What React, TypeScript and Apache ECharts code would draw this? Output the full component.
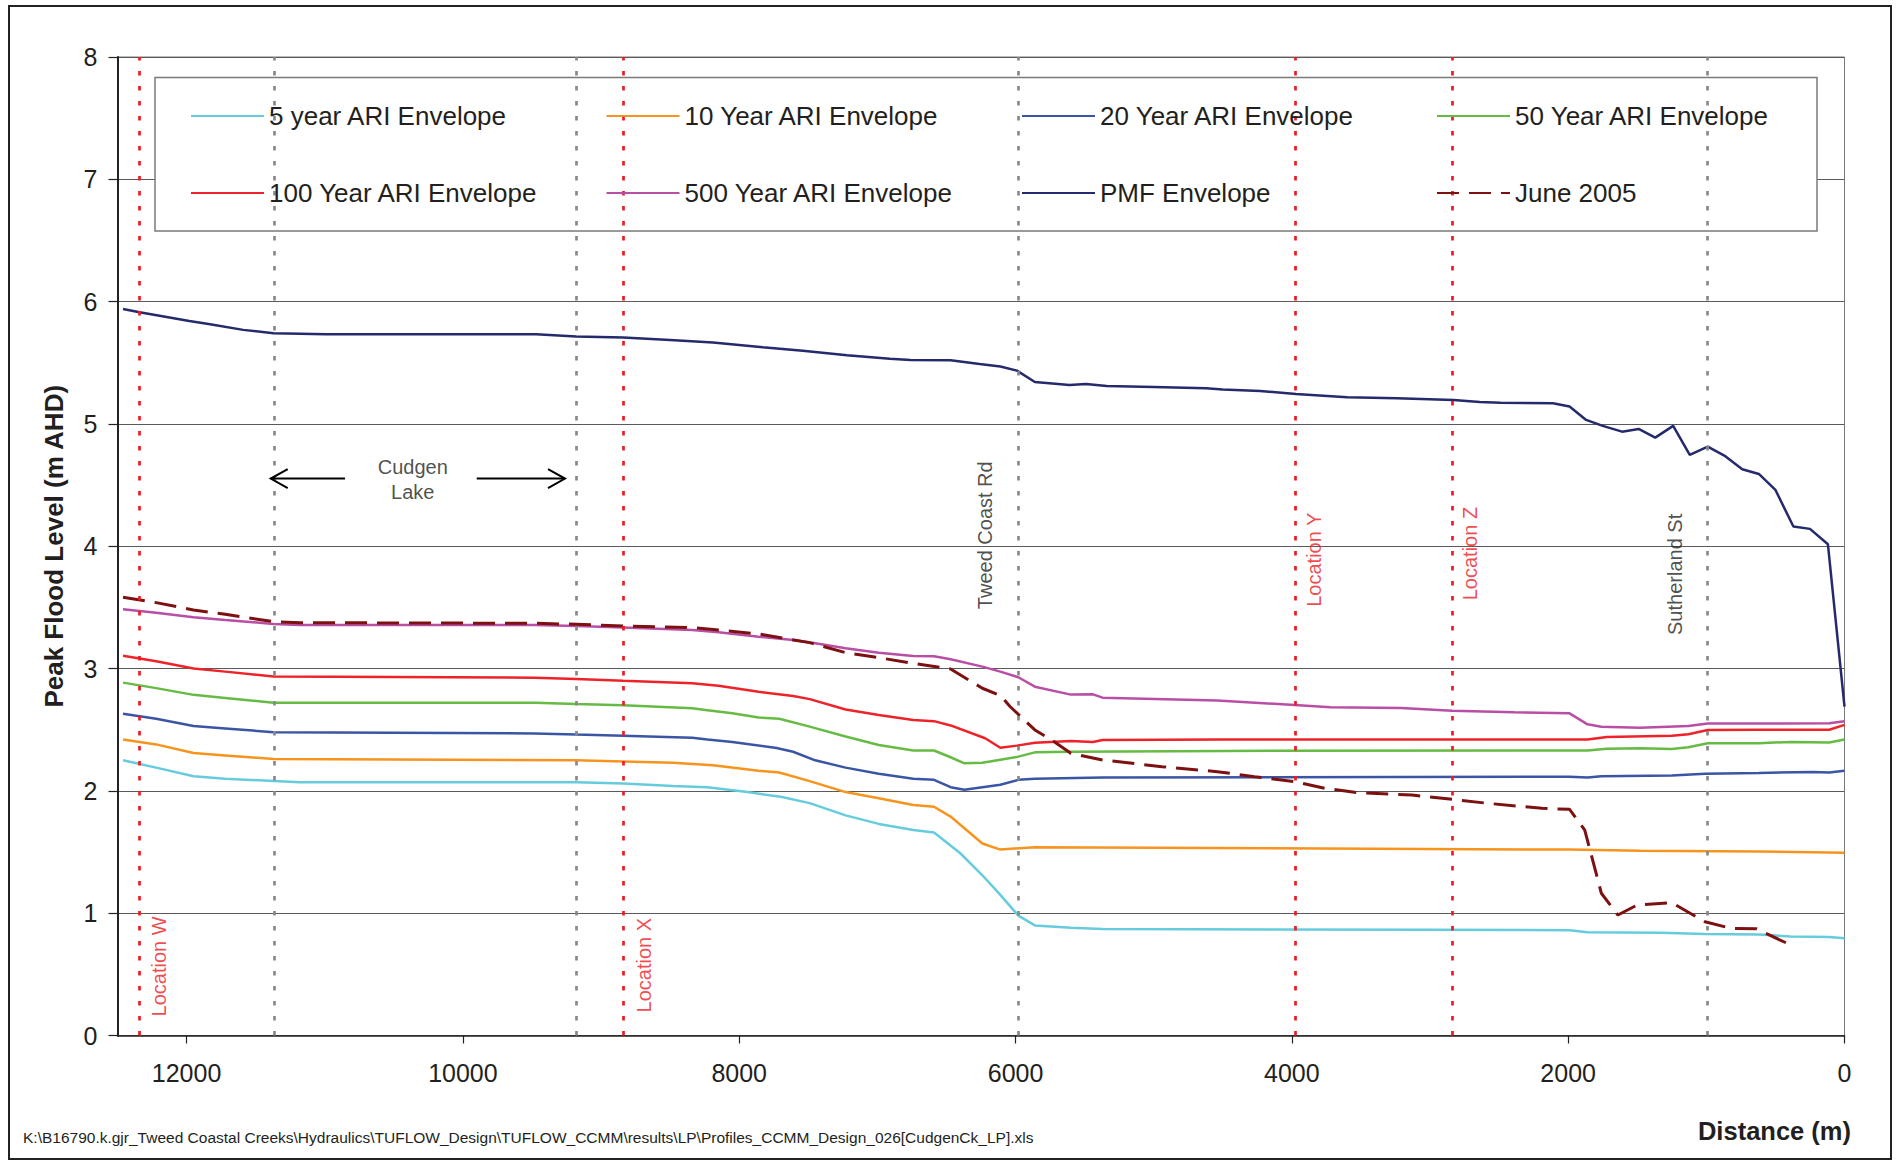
import React, { useEffect, useRef } from "react";
import * as echarts from "echarts";

const W = 1899;
const H = 1165;
const FONT = "'Liberation Sans', Arial, Helvetica, sans-serif";
const TXT = "#231F20";

// ---- data: [distance (m), peak flood level (m AHD)] ----
const ari5: [number, number][] = [
  [12460, 2.25], [12220, 2.19], [11950, 2.12], [11720, 2.10], [11370, 2.08], [11180, 2.07],
  [9180, 2.07], [8840, 2.06], [8480, 2.04], [8230, 2.03], [7940, 1.99], [7690, 1.95],
  [7490, 1.90], [7230, 1.80], [6990, 1.73], [6740, 1.68], [6590, 1.66], [6400, 1.49],
  [6240, 1.31], [6110, 1.15], [5980, 0.98], [5860, 0.90], [5600, 0.88], [5370, 0.87],
  [3000, 0.865], [1990, 0.86], [1860, 0.845], [1330, 0.84], [1010, 0.83], [620, 0.825],
  [390, 0.81], [110, 0.805], [0, 0.795],
];
const ari10: [number, number][] = [
  [12460, 2.42], [12220, 2.38], [11950, 2.31], [11720, 2.29], [11370, 2.26], [9180, 2.25],
  [8840, 2.24], [8480, 2.23], [8190, 2.21], [7860, 2.165], [7710, 2.15], [7490, 2.08],
  [7230, 1.99], [6990, 1.94], [6740, 1.885], [6590, 1.87], [6470, 1.79], [6240, 1.57],
  [6110, 1.52], [5860, 1.54], [4150, 1.53], [1990, 1.52], [1480, 1.51], [620, 1.505], [0, 1.495],
];
const ari20: [number, number][] = [
  [12460, 2.63], [12220, 2.59], [11950, 2.53], [11720, 2.51], [11370, 2.48], [9480, 2.47],
  [9180, 2.46], [8840, 2.45], [8340, 2.435], [8230, 2.42], [8050, 2.40], [7730, 2.35],
  [7610, 2.32], [7450, 2.25], [7230, 2.19], [6990, 2.14], [6740, 2.10], [6590, 2.09],
  [6470, 2.03], [6370, 2.01], [6110, 2.05], [5980, 2.09], [5860, 2.10], [5370, 2.11],
  [1990, 2.115], [1860, 2.11], [1760, 2.12], [1250, 2.125], [1010, 2.14], [620, 2.147],
  [230, 2.155], [110, 2.15], [0, 2.165],
];
const ari50: [number, number][] = [
  [12460, 2.885], [12220, 2.84], [11950, 2.785], [11720, 2.76], [11370, 2.72], [9480, 2.72],
  [9180, 2.71], [8840, 2.70], [8340, 2.675], [8230, 2.66], [8050, 2.635], [7860, 2.60],
  [7710, 2.59], [7490, 2.525], [7230, 2.445], [6990, 2.375], [6740, 2.33], [6590, 2.33],
  [6470, 2.275], [6370, 2.225], [6240, 2.23], [6110, 2.255], [5980, 2.28], [5860, 2.315],
  [5600, 2.32], [4500, 2.327], [1860, 2.33], [1720, 2.345], [1480, 2.348], [1250, 2.343],
  [1130, 2.357], [990, 2.39], [620, 2.39], [390, 2.40], [110, 2.395], [0, 2.42],
];
const ari100: [number, number][] = [
  [12460, 3.105], [12220, 3.06], [11950, 3.00], [11720, 2.975], [11370, 2.935], [9480, 2.925],
  [9180, 2.915], [8840, 2.90], [8340, 2.88], [8150, 2.86], [7860, 2.81], [7610, 2.775],
  [7490, 2.75], [7230, 2.665], [6990, 2.62], [6740, 2.58], [6590, 2.57], [6470, 2.535],
  [6220, 2.43], [6110, 2.353], [5990, 2.37], [5860, 2.394], [5600, 2.408], [5440, 2.40],
  [5370, 2.416], [4500, 2.42], [1860, 2.42], [1720, 2.44], [1250, 2.45], [1130, 2.463],
  [990, 2.498], [620, 2.50], [110, 2.50], [0, 2.54],
];
const ari500: [number, number][] = [
  [12460, 3.485], [12220, 3.457], [11950, 3.42], [11720, 3.397], [11370, 3.365], [11180, 3.357],
  [9480, 3.357], [9180, 3.348], [8840, 3.335], [8340, 3.315], [8150, 3.297], [7860, 3.26],
  [7610, 3.234], [7450, 3.207], [7230, 3.166], [6990, 3.13], [6740, 3.103], [6590, 3.10],
  [6470, 3.076], [6240, 3.016], [6110, 2.975], [5980, 2.929], [5860, 2.852], [5600, 2.787],
  [5440, 2.789], [5370, 2.762], [4540, 2.738], [3980, 2.702], [3720, 2.683], [3210, 2.677],
  [2840, 2.656], [2390, 2.642], [1990, 2.634], [1860, 2.544], [1760, 2.525], [1480, 2.517],
  [1130, 2.53], [990, 2.55], [110, 2.552], [0, 2.569],
];
const pmf: [number, number][] = [
  [12460, 5.94], [12340, 5.913], [11980, 5.842], [11830, 5.815], [11590, 5.769], [11370, 5.742],
  [10990, 5.733], [9470, 5.733], [9180, 5.714], [8840, 5.706], [8500, 5.687], [8190, 5.665],
  [7830, 5.627], [7540, 5.599], [7220, 5.562], [6910, 5.532], [6760, 5.523], [6470, 5.52],
  [6260, 5.49], [6110, 5.469], [5990, 5.436], [5860, 5.343], [5610, 5.319], [5490, 5.327],
  [5340, 5.311], [5000, 5.303], [4620, 5.292], [4500, 5.281], [4230, 5.27], [3970, 5.245],
  [3600, 5.218], [3240, 5.21], [2830, 5.196], [2640, 5.18], [2490, 5.174], [2110, 5.169],
  [1990, 5.142], [1870, 5.033], [1750, 4.984], [1610, 4.937], [1490, 4.959], [1370, 4.888],
  [1240, 4.984], [1120, 4.747], [990, 4.815], [870, 4.741], [740, 4.63], [620, 4.591],
  [500, 4.461], [370, 4.161], [250, 4.142], [120, 4.016], [0, 2.689],
];
const june2005: [number, number][] = [
  [12460, 3.583], [12220, 3.539], [11950, 3.479], [11720, 3.444], [11370, 3.383], [11180, 3.375],
  [9480, 3.37], [9180, 3.362], [8840, 3.348], [8340, 3.335], [8150, 3.315], [7860, 3.283],
  [7490, 3.212], [7230, 3.13], [6990, 3.089], [6740, 3.043], [6470, 2.997], [6240, 2.839],
  [6110, 2.78], [6040, 2.69], [5860, 2.498], [5720, 2.402], [5600, 2.307], [5370, 2.253],
  [4940, 2.198], [4540, 2.157], [4270, 2.116], [3980, 2.075], [3760, 2.021], [3520, 1.985],
  [3130, 1.966], [2840, 1.931], [2580, 1.898], [2190, 1.857], [1990, 1.849], [1880, 1.68],
  [1760, 1.163], [1640, 0.985], [1500, 1.067], [1250, 1.086], [1010, 0.93], [820, 0.876],
  [640, 0.873], [390, 0.74],
];

const seriesNames = [
  "5 year ARI Envelope", "10 Year ARI Envelope", "20 Year ARI Envelope", "50 Year ARI Envelope",
  "100 Year ARI Envelope", "500 Year ARI Envelope", "PMF Envelope", "June 2005",
];
const seriesData = [ari5, ari10, ari20, ari50, ari100, ari500, pmf, june2005];
const seriesColors = ["#66CCDD", "#F7941E", "#3B55A5", "#66BB44", "#EE2229", "#B84FA5", "#242A6C", "#7D1010"];

// vertical reference lines (distance, m)
const locationLines = [12339, 8840, 3975, 2839]; // Location W, X, Y, Z
const featureLines = [11365, 9181, 5980, 993]; // Cudgen Lake ends, Tweed Coast Rd, Sutherland St

// annotation labels: [distance, level]
const annotationNames = ["Location W", "Location X", "Location Y", "Location Z", "Tweed Coast Rd", "Sutherland St", "Cudgen\nLake"];
const annotationPos: [number, number][] = [
  [12201, 0.565], [8689, 0.575], [3840, 3.89], [2711, 3.94], [6221, 4.09], [1227, 3.77], [10363, 4.546],
];
const annotationRed = [true, true, true, true, false, false, false];
const annotationRotate = [90, 90, 90, 90, 90, 90, 0];

// Cudgen Lake arrows: [tail distance, head distance, level]
const arrows: [number, number, number][] = [
  [10853, 11391, 4.553],
  [9900, 9261, 4.553],
];

const xTicks = { min: 0, max: 12500, interval: 2000 };
const yTicks = { min: 0, max: 8, interval: 1 };

const legendColumns = [
  [seriesNames[0], seriesNames[4]],
  [seriesNames[1], seriesNames[5]],
  [seriesNames[2], seriesNames[6]],
  [seriesNames[3], seriesNames[7]],
];
const legendLefts = [190, 605.5, 1021, 1436];

const FOOTER =
  "K:\\B16790.k.gjr_Tweed Coastal Creeks\\Hydraulics\\TUFLOW_Design\\TUFLOW_CCMM\\results\\LP\\Profiles_CCMM_Design_026[CudgenCk_LP].xls";

export default function App() {
  const ref = useRef<HTMLDivElement>(null);

  useEffect(() => {
    if (!ref.current) return;
    const chart = echarts.init(ref.current, null, { renderer: "svg" });

    const lineSeries: any[] = seriesNames.map((name, i) => ({
      name,
      type: "line",
      data: seriesData[i],
      symbol: "none",
      z: 2,
      lineStyle: {
        color: seriesColors[i],
        width: i === 7 ? 3 : 2.5,
        type: i === 7 ? [22, 10] : "solid",
      },
      itemStyle: { color: seriesColors[i] },
      silent: true,
    }));

    const refSeries = {
      name: "refs",
      type: "line",
      data: [],
      silent: true,
      z: 1,
      markLine: {
        silent: true,
        symbol: ["none", "none"],
        label: { show: false },
        emphasis: { disabled: true },
        data: [
          ...locationLines.map((d) => ({
            xAxis: d,
            lineStyle: { color: "#ED1C24", width: 2.7, type: [4.5, 10.5] },
          })),
          ...featureLines.map((d) => ({
            xAxis: d,
            lineStyle: { color: "#898989", width: 2.7, type: [4.5, 10.5] },
          })),
        ],
      },
    };

    const annotationSeries = {
      name: "annotations",
      type: "scatter",
      silent: true,
      symbolSize: 1,
      z: 5,
      itemStyle: { color: "rgba(0,0,0,0)" },
      data: annotationNames.map((n, i) => ({
        name: n,
        value: annotationPos[i],
        label: {
          show: true,
          position: "inside",
          formatter: n,
          rotate: annotationRotate[i],
          color: annotationRed[i] ? "#ED1C24" : TXT,
          fontSize: 20,
          fontFamily: FONT,
          lineHeight: 25.6,
          align: "center",
          verticalAlign: "middle",
        },
      })),
    };

    const arrowSeries = {
      name: "arrows",
      type: "custom",
      silent: true,
      z: 5,
      data: arrows,
      encode: { x: [0, 1], y: 2 },
      renderItem: (params: any, api: any) => {
        const p0 = api.coord([api.value(0), api.value(2)]);
        const p1 = api.coord([api.value(1), api.value(2)]);
        const dir = Math.sign(p1[0] - p0[0]);
        const hl = 17;
        const hw = 9.5;
        return {
          type: "group",
          children: [
            {
              type: "line",
              shape: { x1: p0[0], y1: p0[1], x2: p1[0], y2: p1[1] },
              style: { stroke: "#000", lineWidth: 2 },
            },
            {
              type: "polyline",
              shape: {
                points: [
                  [p1[0] - dir * hl, p1[1] - hw],
                  [p1[0], p1[1]],
                  [p1[0] - dir * hl, p1[1] + hw],
                ],
              },
              style: { stroke: "#000", lineWidth: 2, fill: null },
            },
          ],
        };
      },
    };

    const legends = legendColumns.map((col, i) => ({
      data: col,
      orient: "vertical",
      left: legendLefts[i],
      top: 101,
      padding: 0,
      itemGap: 47,
      itemWidth: 73,
      itemHeight: 14,
      selectedMode: false,
      z: 6,
      itemStyle: { opacity: 0, borderWidth: 0 },
      textStyle: { fontSize: 26, color: TXT, fontFamily: FONT, lineHeight: 30 },
    }));

    const option: any = {
      animation: false,
      backgroundColor: "#ffffff",
      textStyle: { fontFamily: FONT },
      grid: {
        left: 117.5,
        right: 54.5,
        top: 57,
        bottom: 129.5,
        show: true,
        borderColor: "#7a7a7a",
        borderWidth: 1,
        backgroundColor: "transparent",
      },
      xAxis: {
        type: "value",
        inverse: true,
        min: xTicks.min,
        max: xTicks.max,
        interval: xTicks.interval,
        axisLine: { show: true, onZero: false, lineStyle: { color: "#222", width: 1.5 } },
        axisTick: { show: true, inside: false, length: 8, lineStyle: { color: "#222", width: 1.2 } },
        axisLabel: {
          show: true,
          showMaxLabel: false,
          formatter: (v: number) => String(v),
          fontSize: 25,
          color: TXT,
          fontFamily: FONT,
          margin: 25,
        },
        splitLine: { show: false },
      },
      yAxis: {
        type: "value",
        min: yTicks.min,
        max: yTicks.max,
        interval: yTicks.interval,
        name: "Peak Flood Level (m AHD)",
        nameLocation: "middle",
        nameGap: 51,
        nameTextStyle: { fontSize: 26, fontWeight: "bold", color: TXT, fontFamily: FONT },
        axisLine: { show: true, onZero: false, lineStyle: { color: "#222", width: 2 } },
        axisTick: { show: true, inside: false, length: 9, lineStyle: { color: "#222", width: 1.2 } },
        axisLabel: { fontSize: 25, color: TXT, fontFamily: FONT, margin: 20, formatter: (v: number) => String(v) },
        splitLine: { show: true, lineStyle: { color: "#5a5a5a", width: 1.2 } },
      },
      legend: legends,
      graphic: [
        {
          type: "rect",
          z: 3,
          silent: true,
          shape: { x: 155, y: 77.5, width: 1662, height: 153.5 },
          style: { fill: "#ffffff", stroke: "#7a7a7a", lineWidth: 1.5 },
        },
        {
          type: "rect",
          z: 10,
          silent: true,
          shape: { x: 9, y: 6, width: 1882, height: 1153 },
          style: { fill: null, stroke: "#222", lineWidth: 2 },
        },
        {
          type: "text",
          z: 10,
          silent: true,
          x: 1851,
          y: 1131,
          style: {
            text: "Distance (m)",
            align: "right",
            verticalAlign: "middle",
            fontSize: 25.5,
            fontWeight: "bold",
            fill: TXT,
            fontFamily: FONT,
          },
        },
        {
          type: "text",
          z: 10,
          silent: true,
          x: 23,
          y: 1137,
          style: {
            text: FOOTER,
            align: "left",
            verticalAlign: "middle",
            fontSize: 15.5,
            fill: TXT,
            fontFamily: FONT,
          },
        },
      ],
      series: [refSeries, ...lineSeries, arrowSeries, annotationSeries],
    };

    chart.setOption(option);
    return () => {
      chart.dispose();
    };
  }, []);

  return (
    <div
      ref={ref}
      style={{ position: "absolute", left: 0, top: 0, width: W, height: H, background: "#fff" }}
    />
  );
}
